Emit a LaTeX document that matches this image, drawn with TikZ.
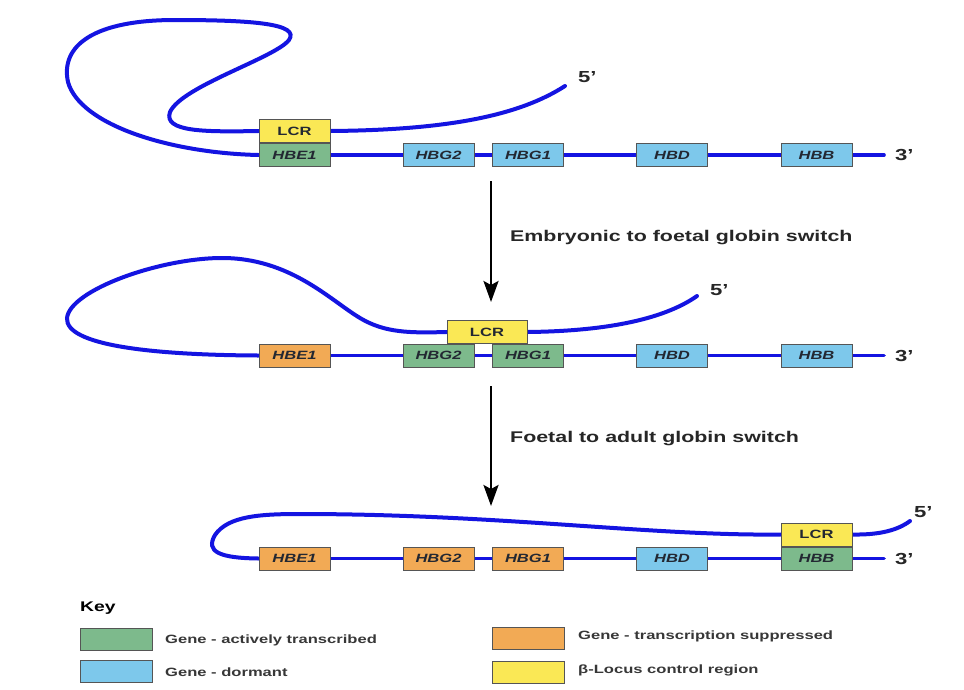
\documentclass[tikz,border=0pt]{standalone}
\usepackage{fontspec}
\setmainfont[FakeStretch=1.38]{Liberation Sans}
\usetikzlibrary{arrows.meta,backgrounds}
\definecolor{dna}{RGB}{20,20,225}
\definecolor{gActive}{RGB}{125,186,140}
\definecolor{gDormant}{RGB}{125,200,235}
\definecolor{gSupp}{RGB}{242,170,85}
\definecolor{lcrYel}{RGB}{250,232,85}
\definecolor{boxEdge}{RGB}{85,85,85}
\definecolor{geneText}{RGB}{35,40,50}
\definecolor{keyText}{RGB}{55,55,55}
\begin{document}
\begin{tikzpicture}[x=1pt,y=-1pt,
 gene/.style={draw=boxEdge, line width=1pt, minimum width=71pt, minimum height=23pt, inner sep=0pt, font=\fontsize{12}{14}\selectfont\bfseries\itshape, text=geneText},
 active/.style={gene, fill=gActive},
 dormant/.style={gene, fill=gDormant},
 supp/.style={gene, fill=gSupp},
 lcr/.style={gene, fill=lcrYel, font=\fontsize{12}{14}\selectfont\bfseries},
 dnaline/.style={draw=dna, line width=3.6pt, line cap=round},
 strand/.style={draw=dna, line width=4pt, line cap=round},
 endlab/.style={font=\fontsize{16}{18}\selectfont\bfseries, text=black!85, inner sep=0pt, anchor=west},
 switcharrow/.style={draw=black, line width=2.6pt, -{Stealth[length=21pt,width=15pt,inset=4pt]}},
 switchlab/.style={font=\fontsize{15.5}{18}\selectfont\bfseries, text=black!85, anchor=west, inner sep=0pt},
 keybox/.style={draw=boxEdge, line width=1pt, minimum width=72pt, minimum height=22pt, inner sep=0pt},
 keylab/.style={font=\fontsize{12}{14}\selectfont\bfseries, text=keyText, anchor=west, inner sep=0pt}
]
\useasboundingbox (0,0) rectangle (964,689);

% ---------- top panel ----------
\node[active] (hbeA) at (294.5,155) {HBE1};
\node[lcr, anchor=south] (lcrA) at (hbeA.north) {LCR};
\node[dormant] (hbgTwoA) at (438.5,155) {HBG2};
\node[dormant] (hbgOneA) at (528,155) {HBG1};
\node[dormant] (hbdA) at (672,155) {HBD};
\node[dormant] (hbbA) at (816.5,155) {HBB};
\node[endlab] (threeA) at (895,155) {3'};
\coordinate (tailA) at (884,155);
\node[endlab] (fiveA) at (578,77) {5'};
\coordinate (headA) at (565,86);

% ---------- middle panel ----------
\node[supp] (hbeB) at (294.5,355.5) {HBE1};
\node[active] (hbgTwoB) at (438.5,355.5) {HBG2};
\node[active] (hbgOneB) at (528,355.5) {HBG1};
\node[dormant] (hbdB) at (672,355.5) {HBD};
\node[dormant] (hbbB) at (816.5,355.5) {HBB};
\node[lcr, minimum width=80pt, anchor=south] (lcrB) at (487,344) {LCR};
\node[endlab] (threeB) at (895,355.5) {3'};
\coordinate (tailB) at (884,355.5);
\node[endlab] (fiveB) at (710,290) {5'};
\coordinate (headB) at (697,296);

% ---------- bottom panel ----------
\node[supp] (hbeC) at (294.5,558.5) {HBE1};
\node[supp] (hbgTwoC) at (438.5,558.5) {HBG2};
\node[supp] (hbgOneC) at (528,558.5) {HBG1};
\node[dormant] (hbdC) at (672,558.5) {HBD};
\node[active] (hbbC) at (816.5,558.5) {HBB};
\node[lcr, anchor=south] (lcrC) at (hbbC.north) {LCR};
\node[endlab] (threeC) at (895,558.5) {3'};
\coordinate (tailC) at (884,558.5);
\node[endlab] (fiveC) at (914,512) {5'};
\coordinate (headC) at (910,521);

% ---------- DNA lines (behind boxes) ----------
\begin{scope}[on background layer]
\fill[white] (0,0) rectangle (964,689);
\draw[dnaline] (hbeA.east) -- (hbgTwoA.west);
\draw[dnaline] (hbgTwoA.east) -- (hbgOneA.west);
\draw[dnaline] (hbgOneA.east) -- (hbdA.west);
\draw[dnaline] (hbdA.east) -- (hbbA.west);
\draw[dnaline] (hbbA.east) -- (tailA);
\draw[strand] (hbeA.west) .. controls (170,153) and (80,125) .. (68,82)
  .. controls (60,45) and (95,20) .. (175,20)
  .. controls (255,20) and (300,24) .. (289,40)
  .. controls (275,58) and (182,86) .. (170,112)
  .. controls (163,132) and (205,132) .. (lcrA.west);
\draw[strand] (lcrA.east) .. controls (450,130) and (520,115) .. (headA);

\draw[dnaline] (hbeB.east) -- (hbgTwoB.west);
\draw[dnaline] (hbgTwoB.east) -- (hbgOneB.west);
\draw[dnaline] (hbgOneB.east) -- (hbdB.west);
\draw[dnaline] (hbdB.east) -- (hbbB.west);
\draw[dnaline] (hbbB.east) -- (tailB);
\draw[strand] (hbeB.west) .. controls (150,355) and (65,345) .. (67,318)
  .. controls (70,290) and (160,258) .. (222,258)
  .. controls (290,258) and (330,300) .. (360,318)
  .. controls (385,333) and (410,333) .. (lcrB.west);
\draw[strand] (lcrB.east) .. controls (620,331) and (670,315) .. (headB);

\draw[dnaline] (hbeC.east) -- (hbgTwoC.west);
\draw[dnaline] (hbgTwoC.east) -- (hbgOneC.west);
\draw[dnaline] (hbgOneC.east) -- (hbdC.west);
\draw[dnaline] (hbdC.east) -- (hbbC.west);
\draw[dnaline] (hbbC.east) -- (tailC);
\draw[strand] (hbeC.west) .. controls (220,558) and (205,552) .. (215,535)
  .. controls (228,516) and (260,514) .. (300,514)
  .. controls (500,514) and (650,536) .. (lcrC.west);
\draw[strand] (lcrC.east) .. controls (880,535) and (898,530) .. (headC);
\end{scope}

% ---------- switch arrows ----------
\coordinate (arrAtop) at (491,181);
\coordinate (arrAbot) at (491,302);
\draw[switcharrow] (arrAtop) -- (arrAbot);
\node[switchlab] (labA) at (510,238) {Embryonic to foetal globin switch};
\coordinate (arrBtop) at (491,386);
\coordinate (arrBbot) at (491,506);
\draw[switcharrow] (arrBtop) -- (arrBbot);
\node[switchlab] (labB) at (510,439) {Foetal to adult globin switch};

% ---------- key ----------
\node[font=\fontsize{14}{16}\selectfont\bfseries, anchor=west, inner sep=0pt] (keyTitle) at (80,608) {Key};
\node[keybox, fill=gActive] (kA) at (116,639) {};
\node[keylab] (kAt) at (165,640) {Gene - actively transcribed};
\node[keybox, fill=gDormant] (kD) at (116,671.5) {};
\node[keylab] (kDt) at (165,672) {Gene - dormant};
\node[keybox, fill=gSupp] (kS) at (528.5,638) {};
\node[keylab] (kSt) at (578,636) {Gene - transcription suppressed};
\node[keybox, fill=lcrYel] (kL) at (528.5,672) {};
\node[keylab] (kLt) at (578,670) {β-Locus control region};
\end{tikzpicture}
\end{document}
